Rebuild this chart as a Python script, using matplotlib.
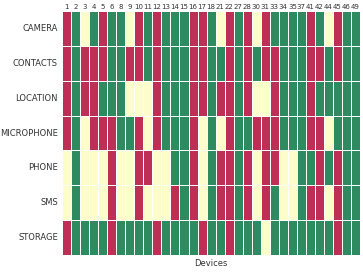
import numpy as np
import matplotlib
matplotlib.use("Agg")
import matplotlib.pyplot as plt
from matplotlib.colors import ListedColormap
import seaborn as sns

# permission status per device: -1 = red, 0 = yellow, 1 = green
devices = [1, 2, 3, 4, 5, 6, 8, 9, 10, 11, 12, 13, 14, 15, 16, 17, 18, 21, 22,
           27, 28, 30, 31, 33, 34, 35, 37, 41, 42, 44, 45, 46, 49]
permissions = ["CAMERA", "CONTACTS", "LOCATION", "MICROPHONE", "PHONE", "SMS", "STORAGE"]

camera     = [-1, 1, 0, 1, -1, 1, 1, 0, -1, 1, -1, 1, 1, 1, -1, -1,
              1, 0, -1, 1, -1, 0, -1, 1, 1, 1, 1, -1, 1, 0, -1, 1, 1]
contacts   = [-1, 1, -1, -1, -1, 1, 1, -1, -1, 1, -1, 1, 1, 1, -1, -1,
              1, 1, -1, 1, -1, 1, -1, -1, 1, 1, 1, -1, -1, 1, -1, 1, 1]
location   = [-1, 1, -1, -1, 1, 1, 1, 0, 0, 0, -1, 1, 1, 1, -1, -1,
              1, -1, -1, 1, -1, 0, 0, -1, 1, 1, 1, -1, 1, 1, 1, 1, 1]
microphone = [-1, 1, 0, -1, -1, -1, 1, 1, -1, 0, -1, 1, 1, 1, -1, 0,
              1, 0, -1, 1, 1, -1, -1, -1, 1, 1, 1, -1, -1, 0, 1, 1, 1]
phone      = [0, 1, 0, 0, 0, -1, 0, 0, -1, -1, 0, 0, 1, 1, -1, 0,
              1, -1, -1, 1, -1, 0, -1, -1, 0, 0, 1, 1, -1, 1, -1, 1, 1]
sms        = [0, 1, 0, 0, 0, -1, 0, 0, -1, 0, 0, 0, -1, 1, -1, 0,
              1, -1, -1, 1, -1, 0, -1, 1, 0, 0, 1, -1, -1, 0, -1, 1, 1]
storage    = [-1, 1, 1, 1, 1, -1, 1, 1, 1, 1, -1, 1, 1, 1, 1, -1,
              1, 1, -1, 1, 1, 1, 0, 1, 1, 1, 1, 1, 1, 1, -1, 1, 1]

data = np.array([camera, contacts, location, microphone, phone, sms, storage])

cmap = ListedColormap(["#bd2f55", "#fdfdcb", "#2e8a5f"])

fig = plt.figure(figsize=(3.63, 2.78), dpi=100)
ax = fig.add_axes([0.171, 0.083, 0.821, 0.877])
sns.heatmap(data, ax=ax, cmap=cmap, vmin=-1.5, vmax=1.5, cbar=False,
            linewidths=0.6, linecolor="white",
            xticklabels=devices, yticklabels=permissions)

ax.xaxis.tick_top()
ax.tick_params(axis="x", length=0, labelsize=5, pad=1, labelrotation=0, colors="#333333")
ax.tick_params(axis="y", length=0, labelsize=6, pad=3, labelrotation=0, colors="#333333")
ax.set_xlabel("Devices", fontsize=6, color="#333333", labelpad=3)
ax.set_ylabel("")

fig.savefig("out.png", dpi=100)
